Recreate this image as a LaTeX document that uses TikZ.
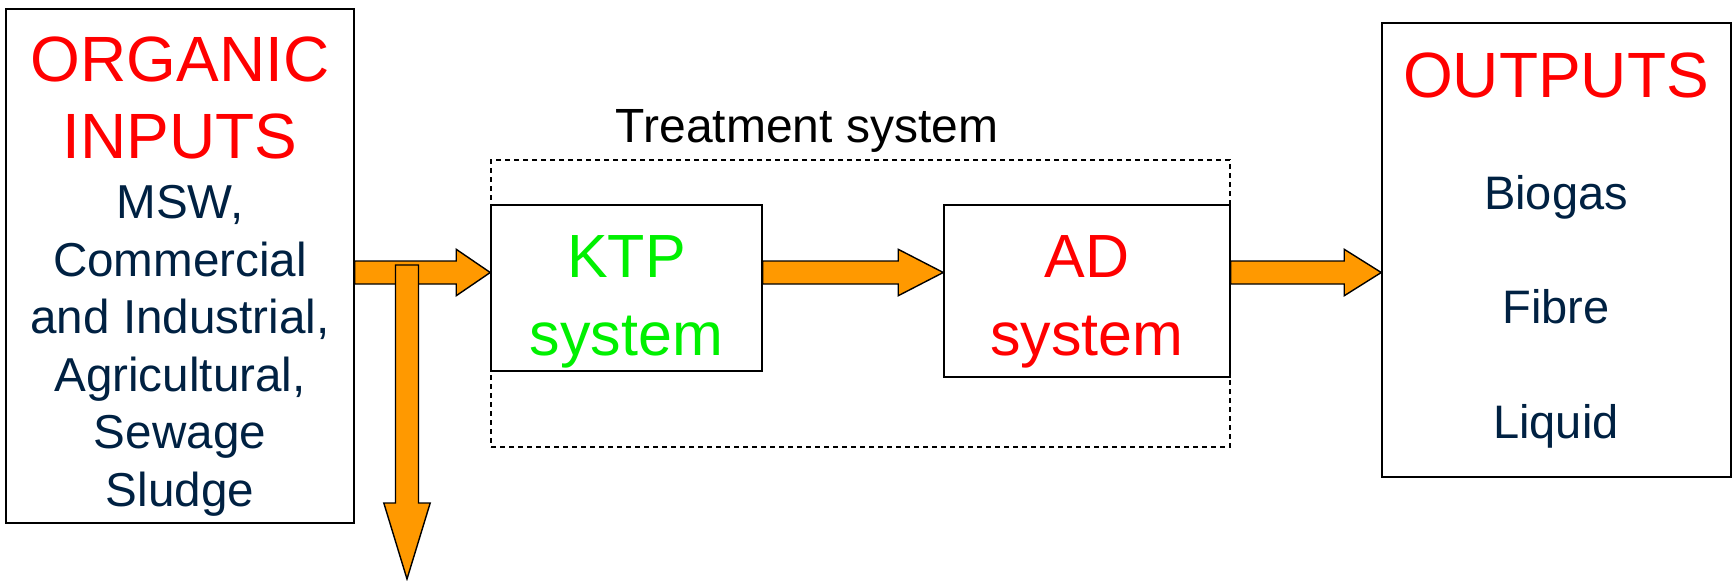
\documentclass[tikz,border=0pt]{standalone}
\usepackage{fontspec}
\setmainfont{Liberation Sans}
\usetikzlibrary{calc}
\definecolor{inkblue}{HTML}{002142}
\definecolor{flowfill}{HTML}{FF9900}
\definecolor{ktpgreen}{HTML}{00F000}
\tikzset{box/.style={draw, line width=0.75pt, inner sep=0pt},
         headtxt/.style={text=red, inner sep=0pt, anchor=base,%
         align=center, font=\fontsize{32}{38.4}\selectfont},
         listtxt/.style={text=inkblue, inner sep=0pt, anchor=base,%
         align=center, font=\fontsize{23.8}{28.75}\selectfont},
         systxt/.style={inner sep=0pt, anchor=base,%
         align=center, font=\fontsize{30.5}{39}\selectfont},
         flow/.style={draw, fill=flowfill, line width=0.7pt}}
% fat arrow: from, to, head length (pt)
\newcommand{\flowarrow}[3]{%
  \coordinate (fa-s) at (#1);
  \coordinate (fa-t) at (#2);
  \coordinate (fa-b) at ($(fa-t)!#3!(fa-s)$);
  \draw[flow] ($(fa-s)!5.75pt!90:(fa-t)$) -- ($(fa-b)!5.75pt!90:(fa-t)$)%
  -- ($(fa-b)!11.6pt!90:(fa-t)$) -- (fa-t) -- ($(fa-b)!11.6pt!-90:(fa-t)$)%
  -- ($(fa-b)!5.75pt!-90:(fa-t)$) -- ($(fa-s)!5.75pt!-90:(fa-t)$) -- cycle;}
\begin{document}
\begin{tikzpicture}[x=0.5pt, y=-0.5pt]
  \useasboundingbox (0,0) rectangle (1736,580);
  % inputs (text nodes sit on the baseline of their last line)
  \node[box, minimum width=174pt, minimum height=257pt] (inputs) at (180,266) {};
  \node[headtxt] (inputshead) at (180,158.4) {ORGANIC\\INPUTS};
  \node[listtxt] (inputslist) at (180,506) {MSW,\\Commercial\\and Industrial,%
  \\Agricultural,\\Sewage\\Sludge};
  % treatment system
  \node[draw, dash pattern=on 2.5pt off 2pt, line width=0.6pt,%
  minimum width=369.5pt, minimum height=143.5pt] (treat) at (860.5,303.5) {};
  \node[inner sep=0pt, anchor=base, font=\fontsize{24}{28}\selectfont] (treatlabel)%
  at (807,142) {Treatment system};
  \node[box, minimum width=135.5pt, minimum height=83pt] (ktp) at (626.5,288) {};
  \node[systxt, text=ktpgreen] (ktptxt) at (626.5,355) {KTP\\system};
  \node[box, minimum width=143pt, minimum height=86pt] (ad) at (1087,291) {};
  \node[systxt, text=red] (adtxt) at (1087,355) {AD\\system};
  % outputs
  \node[box, minimum width=174.5pt, minimum height=227pt] (outputs) at (1556.5,250) {};
  \node[headtxt] (outputshead) at (1556,97) {OUTPUTS};
  \node[listtxt, font=\fontsize{23.5}{57.25}\selectfont] (outputslist)%
  at (1556,438) {Biogas\\Fibre\\Liquid};
  % flows
  \coordinate (level) at (0,272.5);
  \coordinate (split) at (407,265);
  \coordinate (reject) at (407,579);
  \flowarrow{inputs.east |- level}{ktp.west |- level}{17pt}
  \flowarrow{split}{reject}{38pt}
  \flowarrow{ktp.east |- level}{ad.west |- level}{22.5pt}
  \flowarrow{ad.east |- level}{outputs.west |- level}{18.5pt}
\end{tikzpicture}
\end{document}
